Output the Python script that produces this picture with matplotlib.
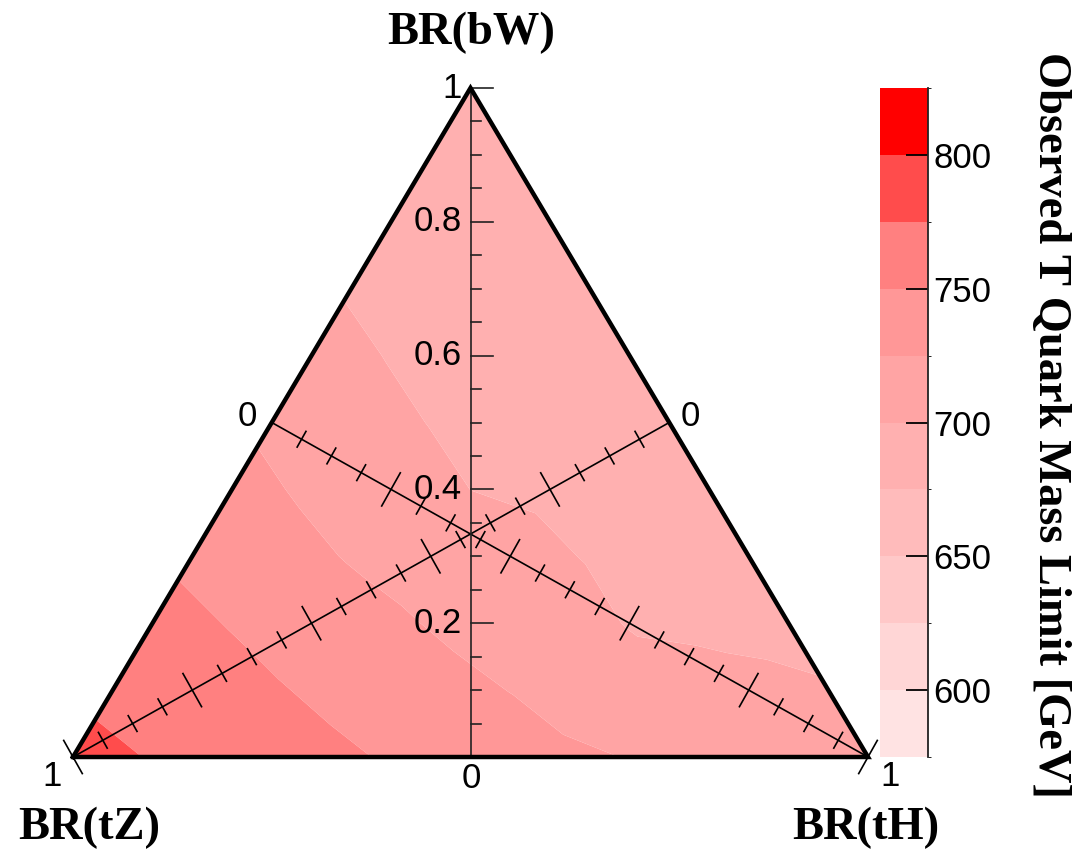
import numpy as np
import matplotlib
matplotlib.use("Agg")
import matplotlib.pyplot as plt
import matplotlib.tri as mtri
from matplotlib.colors import ListedColormap, BoundaryNorm

# ---------------- data ----------------
# grid of branching ratios: rows = BR(bW), columns = BR(tH) (step 0.1); BR(tZ) = 1 - bW - tH
BW_ROWS = [0.0, 0.1, 0.2, 0.3, 0.4, 0.5, 0.6, 0.7, 0.8, 0.9, 1.0]
TH_STEP = 0.1
LIMIT_ROWS = [
    [784, 773.6, 765, 756.4, 747.9, 739.7, 731.5, 724, 719.3, 714.6, 710],  # bW = 0.0
    [768, 761, 752.2, 743, 733.6, 724.5, 712, 704, 702.5, 700.8],           # bW = 0.1
    [757.9, 748.8, 738.8, 728.7, 718.7, 708.6, 699, 698, 697],              # bW = 0.2
    [745.7, 734.2, 723.3, 714.6, 705.9, 698.9, 695.4, 692],                 # bW = 0.3
    [732.8, 721.2, 710.6, 699.9, 696.7, 693.4, 690],                        # bW = 0.4
    [720.5, 709.2, 699.3, 695.5, 691.8, 688],                               # bW = 0.5
    [709.1, 698.8, 694.9, 690.9, 687],                                      # bW = 0.6
    [698, 694, 690, 686],                                                   # bW = 0.7
    [695, 691, 687],                                                        # bW = 0.8
    [692, 689],                                                             # bW = 0.9
    [690],                                                                  # bW = 1.0
]
LEVELS = [575, 600, 625, 650, 675, 700, 725, 750, 775, 800, 825]
BAND_COLORS = ["#FFE3E3", "#FFD6D6", "#FFC8C8", "#FFBBBB", "#FFB0B0",
               "#FFA4A4", "#FF9797", "#FF8080", "#FF4C4C", "#FF0000"]
CBAR_TICKS = [600, 650, 700, 750, 800]
VAXIS_LABELS = ["0.2", "0.4", "0.6", "0.8", "1"]

# ---------------- figure geometry (pixels) ----------------
W, H = 1074, 851
X0, X1 = 73, 868          # triangle base in pixels
YB, YT = 757, 88          # base / apex pixel rows
SX, SY = X1 - X0, YB - YT

fig = plt.figure(figsize=(W / 100, H / 100), dpi=100)
ax = fig.add_axes([X0 / W, (H - YB) / H, SX / W, SY / H])
ax.set_xlim(0, 1)
ax.set_ylim(0, 1)
ax.axis("off")

def fx(px):
    return px / W

def fy(py):
    return 1 - py / H

# ternary -> cartesian
bw_pts, th_pts, vals = [], [], []
for bw, row in zip(BW_ROWS, LIMIT_ROWS):
    for j, v in enumerate(row):
        bw_pts.append(bw)
        th_pts.append(j * TH_STEP)
        vals.append(v)
bw_pts = np.array(bw_pts)
th_pts = np.array(th_pts)
vals = np.array(vals)
xc = th_pts + bw_pts / 2
yc = bw_pts
tri = mtri.Triangulation(xc, yc)

cmap = ListedColormap(BAND_COLORS)
norm = BoundaryNorm(LEVELS, cmap.N)
cs = ax.tricontourf(tri, vals, levels=LEVELS, cmap=cmap, norm=norm, antialiased=True)

# ---------------- axes inside the triangle ----------------
AX_LW = 1.2

def draw_median(vertex, mid):
    vertex = np.array(vertex, float)
    mid = np.array(mid, float)
    ax.plot([vertex[0], mid[0]], [vertex[1], mid[1]], color="black", lw=AX_LW,
            clip_on=False, zorder=5)
    d = (vertex - mid) * np.array([SX, SY])
    d = d / np.linalg.norm(d)
    n_pix = np.array([-d[1], d[0]])
    n_data = n_pix / np.array([SX, SY])
    for k in range(1, 21):
        v = k * 0.05
        p = mid + v * (vertex - mid)
        L = 19 if k % 4 == 0 else 9
        a = p - L * n_data
        b = p + L * n_data
        ax.plot([a[0], b[0]], [a[1], b[1]], color="black", lw=AX_LW,
                clip_on=False, zorder=5)

draw_median((0.0, 0.0), (0.75, 0.5))   # BR(tZ) axis
draw_median((1.0, 0.0), (0.25, 0.5))   # BR(tH) axis

# BR(bW) vertical axis
ax.plot([0.5, 0.5], [0, 1], color="#222222", lw=AX_LW, clip_on=False, zorder=5)
for k in range(1, 21):
    v = k * 0.05
    L = 22 if k % 4 == 0 else 10
    ax.plot([0.5, 0.5 + L / SX], [v, v], color="#222222", lw=AX_LW,
            clip_on=False, zorder=5)
for i, lab in enumerate(VAXIS_LABELS):
    v = 0.2 * (i + 1)
    fig.text(fx(X0 + 0.5 * SX - 9), fy(YB - v * SY), lab, ha="right", va="center",
             fontsize=25, family="Liberation Sans")

# triangle border
ax.plot([0, 1, 0.5, 0], [0, 0, 1, 0], color="black", lw=3.2, clip_on=False,
        solid_joinstyle="miter", zorder=6)

# end labels
lab_kw = dict(fontsize=25, family="Liberation Sans")
fig.text(fx(471), fy(779), "0", ha="center", va="center", **lab_kw)
fig.text(fx(247), fy(416), "0", ha="center", va="center", **lab_kw)
fig.text(fx(690), fy(416), "0", ha="center", va="center", **lab_kw)
fig.text(fx(52), fy(777), "1", ha="center", va="center", **lab_kw)
fig.text(fx(890), fy(777), "1", ha="center", va="center", **lab_kw)

title_kw = dict(fontsize=33.5, family="Liberation Serif", fontweight="bold")
fig.text(fx(471), fy(33), "BR(bW)", ha="center", va="center", **title_kw)
fig.text(fx(89), fy(828), "BR(tZ)", ha="center", va="center", **title_kw)
fig.text(fx(866), fy(828), "BR(tH)", ha="center", va="center", **title_kw)

# ---------------- colour bar ----------------
cax = fig.add_axes([880 / W, (H - YB) / H, 48 / W, SY / H])
cb = fig.colorbar(cs, cax=cax, ticks=CBAR_TICKS)
cb.outline.set_visible(False)
cax.tick_params(axis="y", direction="in", length=16, width=1.3, right=True,
                left=False, labelsize=25, pad=4, colors="black")
for t in cax.get_yticklabels():
    t.set_family("Liberation Sans")
cax.plot([1, 1], [0, 1], transform=cax.transAxes, color="#222222", lw=1.3,
         clip_on=False)
fig.text(fx(1050), 0.5, "Observed T Quark Mass Limit [GeV]", rotation=270,
         ha="center", va="center", **title_kw)

fig.savefig("out.png", dpi=100)
